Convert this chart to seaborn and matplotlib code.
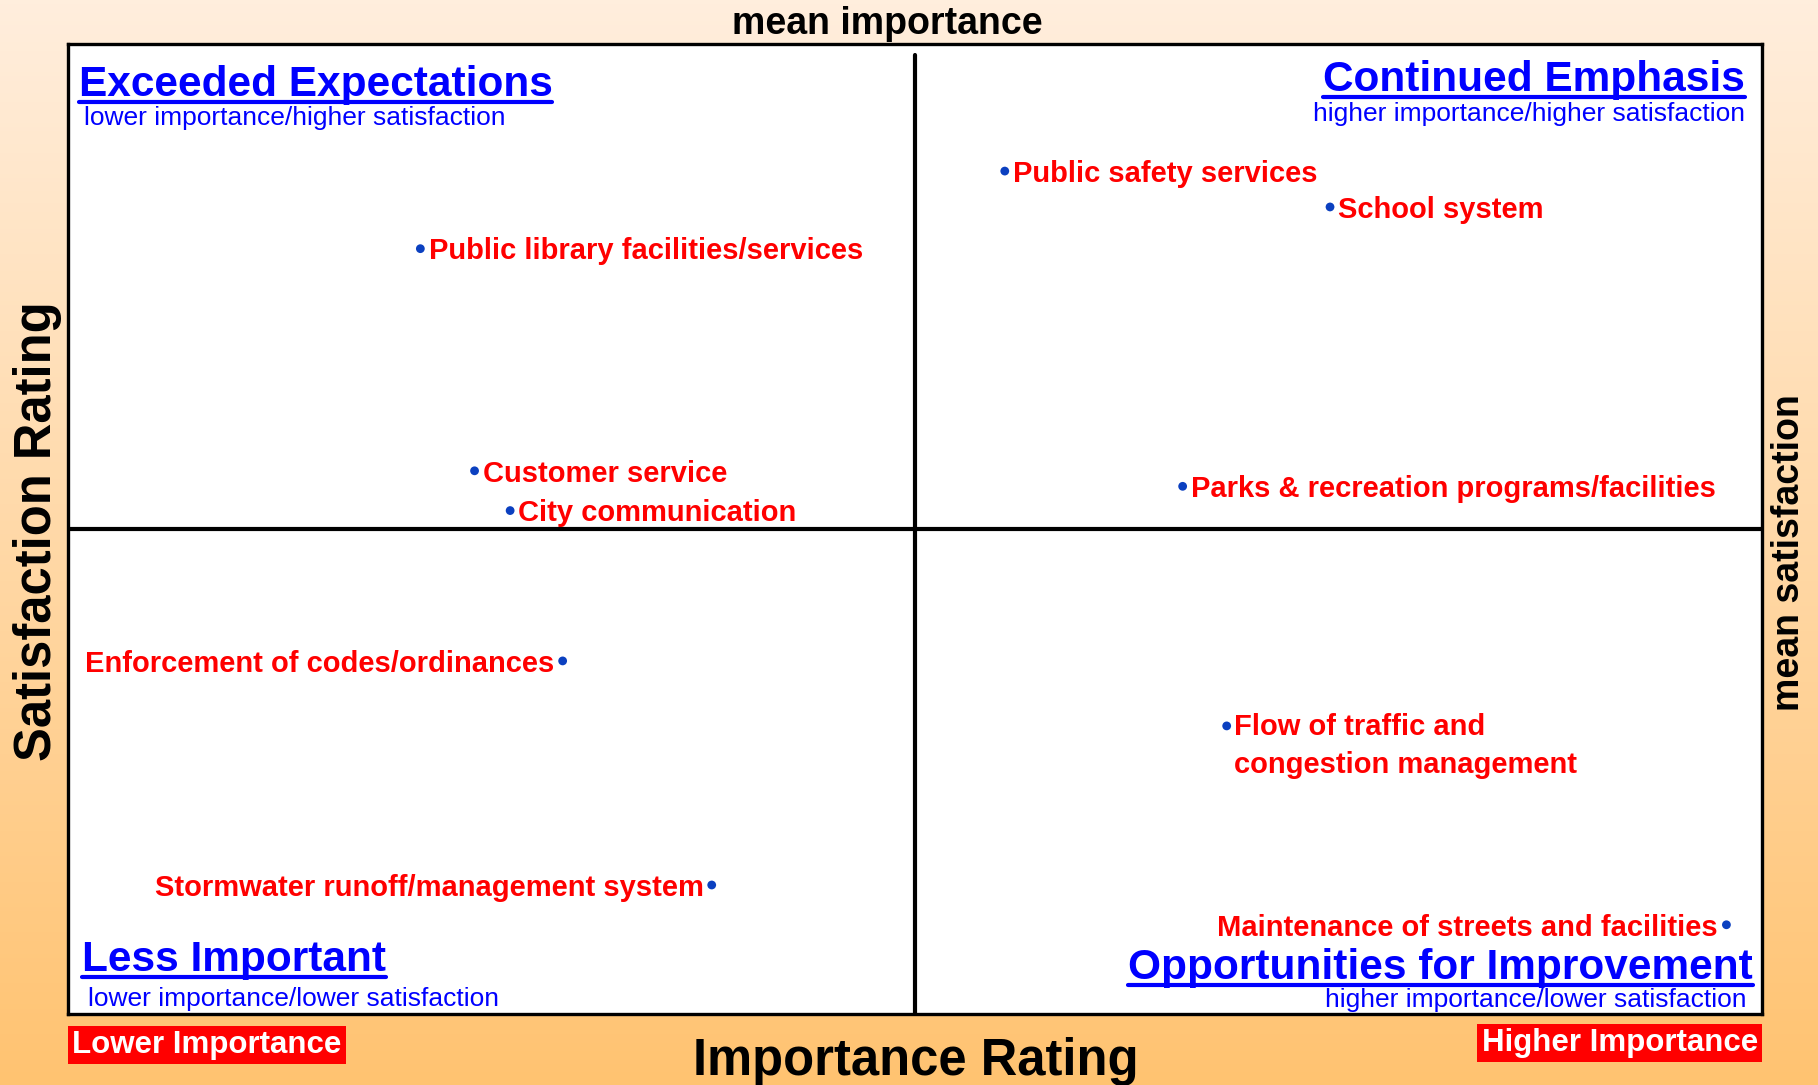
import numpy as np
import pandas as pd
import matplotlib
matplotlib.use('Agg')
import matplotlib.pyplot as plt
from matplotlib.lines import Line2D
import seaborn as sns

# Data (axis scale 0-100, means at 50).
services = ['Public safety services', 'School system', 'Public library facilities/services',
            'Customer service', 'City communication', 'Parks & recreation programs/facilities',
            'Enforcement of codes/ordinances', 'Flow of traffic and\ncongestion management',
            'Stormwater runoff/management system', 'Maintenance of streets and facilities']
importance = [55.3, 74.5, 20.8, 24.0, 26.1, 65.8, 29.2, 68.4, 38.0, 97.9]
satisfaction = [86.9, 83.2, 78.9, 56.0, 51.9, 54.4, 36.4, 29.7, 13.3, 9.2]
mean_importance = 50.0
mean_satisfaction = 50.0

quadrant_titles = ['Exceeded Expectations', 'Continued Emphasis', 'Less Important', 'Opportunities for Improvement']
quadrant_subs = ['lower importance/higher satisfaction', 'higher importance/higher satisfaction',
                 'lower importance/lower satisfaction', 'higher importance/lower satisfaction']

df = pd.DataFrame({'service': services, 'importance': importance, 'satisfaction': satisfaction})

sns.set_theme(style='white')
plt.rcParams['font.family'] = ['Liberation Sans', 'DejaVu Sans']

fig = plt.figure(figsize=(18.18, 10.85), dpi=100)

# Background gradient
bg = fig.add_axes([0, 0, 1, 1], zorder=-10)
top = np.array([255, 238, 221]) / 255
bottom = np.array([255, 195, 113]) / 255
t = np.linspace(0, 1, 256)[:, None]
grad = top[None, :] * (1 - t) + bottom[None, :] * t
bg.imshow(grad[:, None, :], aspect='auto', extent=[0, 1, 0, 1])
bg.axis('off')

ax = fig.add_axes([68 / 1818, 71 / 1085, 1694 / 1818, 970 / 1085])
ax.set_facecolor('white')
ax.set_xlim(0, 100)
ax.set_ylim(0, 100)
ax.set_xticks([])
ax.set_yticks([])
for sp in ax.spines.values():
    sp.set_visible(True)
    sp.set_color('black')
    sp.set_linewidth(2.4)

ax.axhline(mean_satisfaction, color='black', lw=3, zorder=1)
ax.axvline(mean_importance, ymin=0, ymax=0.989, color='black', lw=3, zorder=1)

sns.scatterplot(data=df, x='importance', y='satisfaction', ax=ax, color='#0b40c0',
                s=40, edgecolor='none', zorder=3, legend=False)
ax.set_xlabel('')
ax.set_ylabel('')

left_labels = {'Enforcement of codes/ordinances', 'Stormwater runoff/management system',
               'Maintenance of streets and facilities'}
lab_size = 21
for name, x, y in zip(services, importance, satisfaction):
    if name in left_labels:
        ax.annotate(name, (x, y), xytext=(-6, -2), textcoords='offset points', ha='right',
                    va='center', color='red', fontsize=lab_size, fontweight='bold')
    elif '\n' in name:
        ax.annotate(name, (x, y), xytext=(5, 9), textcoords='offset points', ha='left',
                    va='top', color='red', fontsize=lab_size, fontweight='bold', linespacing=1.45)
    else:
        ax.annotate(name, (x, y), xytext=(6, -2), textcoords='offset points', ha='left',
                    va='center', color='red', fontsize=lab_size, fontweight='bold')

# Quadrant titles
title_pos = [(0.0062, 0.946, 'left'), (0.9897, 0.952, 'right'), (0.0082, 0.044, 'left'), (0.9945, 0.036, 'right')]
sub_pos = [(0.0096, 0.9166), (0.990, 0.921), (0.0116, 0.0084), (0.991, 0.0072)]
title_texts = []
for title, sub, (tx, ty, ha), (sx, sy) in zip(quadrant_titles, quadrant_subs, title_pos, sub_pos):
    tt = ax.text(tx, ty, title, transform=ax.transAxes, ha=ha, va='baseline',
                 color='#0000ff', fontsize=30.5, fontweight='bold')
    ax.text(sx, sy, sub, transform=ax.transAxes, ha=ha, va='baseline',
            color='#0000ff', fontsize=19)
    title_texts.append((tt, tx, ty))

fig.canvas.draw()
renderer = fig.canvas.get_renderer()
for tt, tx, ty in title_texts:
    bb = tt.get_window_extent(renderer)
    _, base = ax.transAxes.transform((tx, ty))
    yline = (base - 6) / fig.bbox.height
    fig.add_artist(Line2D([bb.x0 / fig.bbox.width, bb.x1 / fig.bbox.width], [yline, yline],
                          color='#0000ff', lw=3, transform=fig.transFigure))

# Outer labels
fig.text(887 / 1818, 1 - 24 / 1085, 'mean importance', ha='center', va='center',
         fontsize=27, fontweight='bold', color='black')
fig.text(1789 / 1818, 1 - 553 / 1085, 'mean satisfaction', ha='center', va='center',
         rotation=90, fontsize=27, fontweight='bold', color='black')
fig.text(38 / 1818, 1 - 531 / 1085, 'Satisfaction Rating', ha='center', va='center',
         rotation=90, fontsize=36.5, fontweight='bold', color='black')
fig.text(916 / 1818, 1 - 1062 / 1085, 'Importance Rating', ha='center', va='center',
         fontsize=36.5, fontweight='bold', color='black')
fig.text(72 / 1818, 1 - 1045 / 1085, 'Lower Importance', ha='left', va='center',
         fontsize=22.5, fontweight='bold', color='white',
         bbox=dict(boxstyle='square,pad=0.14', fc='red', ec='none'))
fig.text(1758 / 1818, 1 - 1043 / 1085, 'Higher Importance', ha='right', va='center',
         fontsize=22.5, fontweight='bold', color='white',
         bbox=dict(boxstyle='square,pad=0.14', fc='red', ec='none'))

fig.savefig('out.png', dpi=100)
